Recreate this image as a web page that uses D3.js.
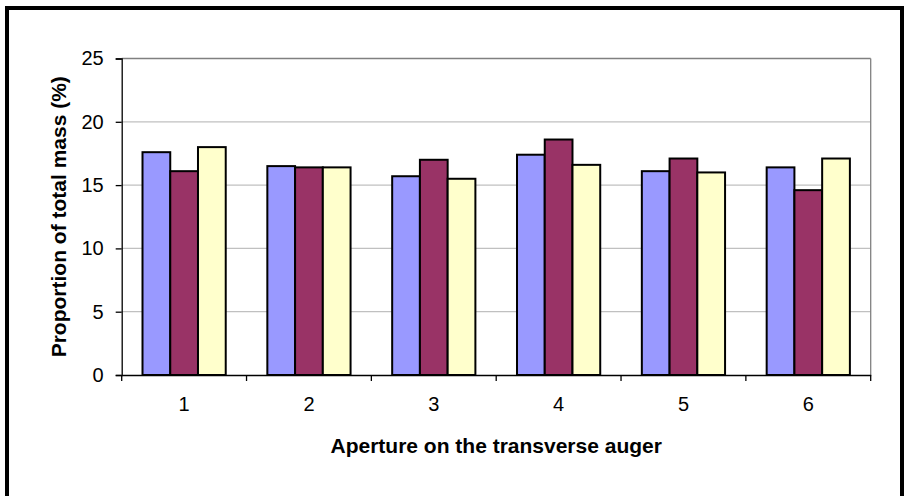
<!DOCTYPE html>
<html>
<head>
<meta charset="utf-8">
<script src="https://cdn.jsdelivr.net/npm/d3@7"></script>
<style>
  body { margin: 0; background: #fff; }
  text { font-family: "Liberation Sans", Arial, sans-serif; }
</style>
</head>
<body>
<div id="chart"></div>
<script>
// data
var apertures = ["1", "2", "3", "4", "5", "6"];
var seriesNames = ["Series 1", "Series 2", "Series 3"];
var series1 = [17.6, 16.5, 15.7, 17.4, 16.1, 16.4];
var series2 = [16.1, 16.4, 17.0, 18.6, 17.1, 14.6];
var series3 = [18.0, 16.4, 15.5, 16.6, 16.0, 17.1];
var seriesColors = ["#9999FF", "#993366", "#FFFFCC"];
var yTicks = [0, 5, 10, 15, 20, 25];

// set up the chart
var svgWidth = 911;
var svgHeight = 496;
var margin = { top: 58.5, right: 40.3, bottom: 121, left: 121.7 };
var width = svgWidth - margin.left - margin.right;
var height = svgHeight - margin.top - margin.bottom;

var svg = d3.select("#chart")
  .append("svg")
  .attr("width", svgWidth)
  .attr("height", svgHeight);

// outer frame
svg.append("rect")
  .attr("x", 7)
  .attr("y", 8)
  .attr("width", 895)
  .attr("height", 490)
  .attr("fill", "none")
  .attr("stroke", "#000")
  .attr("stroke-width", 4);

var chart = svg.append("g")
  .attr("transform", "translate(" + margin.left + "," + margin.top + ")");

// scales
var x0 = d3.scaleBand().domain(apertures).range([0, width]).padding(0);
var x1 = d3.scaleBand().domain(seriesNames).range([0, x0.bandwidth()])
  .paddingInner(0).paddingOuter(0.75);
var y = d3.scaleLinear().domain([0, 25]).range([height, 0]);

// gridlines
chart.append("g")
  .selectAll("line")
  .data(yTicks.slice(1))
  .enter()
  .append("line")
  .attr("x1", 0)
  .attr("x2", width)
  .attr("y1", function(d) { return y(d); })
  .attr("y2", function(d) { return y(d); })
  .attr("stroke", function(d) { return d === 25 ? "#808080" : "#c0c0c0"; })
  .attr("stroke-width", 1.3);

// right edge of plot area
chart.append("line")
  .attr("x1", width).attr("x2", width)
  .attr("y1", 0).attr("y2", height)
  .attr("stroke", "#808080")
  .attr("stroke-width", 1.3);

// bars
var rows = apertures.map(function(a, i) {
  return [series1[i], series2[i], series3[i]].map(function(v, j) {
    return { cat: a, name: seriesNames[j], value: v, color: seriesColors[j] };
  });
});

chart.selectAll(".group")
  .data(rows)
  .enter()
  .append("g")
  .attr("class", "group")
  .attr("transform", function(d) { return "translate(" + x0(d[0].cat) + ",0)"; })
  .selectAll("rect")
  .data(function(d) { return d; })
  .enter()
  .append("rect")
  .attr("x", function(d) { return x1(d.name); })
  .attr("y", function(d) { return y(d.value); })
  .attr("width", x1.bandwidth())
  .attr("height", function(d) { return height - y(d.value); })
  .attr("fill", function(d) { return d.color; })
  .attr("stroke", "#000")
  .attr("stroke-width", 2);

// axes
var bottomAxis = d3.axisBottom(x0).tickSize(0).tickPadding(22);
var leftAxis = d3.axisLeft(y).tickValues(yTicks).tickSize(6).tickPadding(12);

var xAxis = chart.append("g")
  .attr("transform", "translate(0," + height + ")")
  .call(bottomAxis);
xAxis.select(".domain").attr("stroke", "#000").attr("stroke-width", 1.3);
xAxis.selectAll("text").attr("font-size", 20).attr("font-family", "Liberation Sans, Arial, sans-serif").attr("fill", "#000");

// category separator ticks
xAxis.selectAll(".sep")
  .data(d3.range(apertures.length + 1))
  .enter()
  .append("line")
  .attr("class", "sep")
  .attr("x1", function(i) { return i * x0.step(); })
  .attr("x2", function(i) { return i * x0.step(); })
  .attr("y1", 0)
  .attr("y2", 6)
  .attr("stroke", "#000")
  .attr("stroke-width", 1.3);

var yAxis = chart.append("g").call(leftAxis);
yAxis.select(".domain").attr("stroke", "#000").attr("stroke-width", 1.3);
yAxis.selectAll(".tick line").attr("stroke", "#000").attr("stroke-width", 1.3);
yAxis.selectAll("text").attr("font-size", 20).attr("font-family", "Liberation Sans, Arial, sans-serif").attr("fill", "#000");

// axis titles
chart.append("text")
  .attr("transform", "rotate(-90)")
  .attr("x", 0 - height / 2)
  .attr("y", 0 - margin.left + 66)
  .attr("text-anchor", "middle")
  .attr("font-size", 21)
  .attr("font-weight", "bold")
  .text("Proportion of total mass (%)");

chart.append("text")
  .attr("x", width / 2)
  .attr("y", height + 78)
  .attr("text-anchor", "middle")
  .attr("font-size", 21)
  .attr("font-weight", "bold")
  .text("Aperture on the transverse auger");
</script>
</body>
</html>
